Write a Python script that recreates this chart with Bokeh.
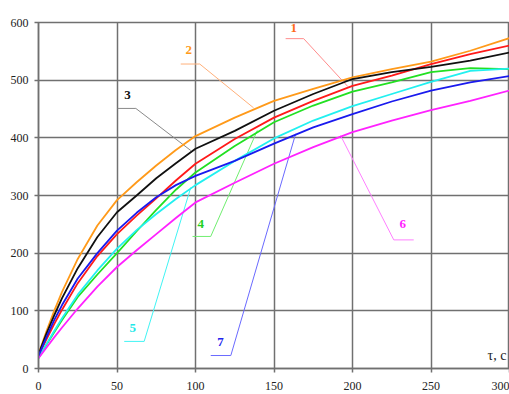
from bokeh.plotting import figure
from bokeh.models import Label, Range1d, FixedTicker
from bokeh.embed import file_html
from bokeh.resources import INLINE

# time, s
tau = [0, 5, 10, 15, 25, 37.5, 50, 62.5, 75, 87.5, 100, 125, 150, 175, 200, 225, 250, 275, 300]

# temperature, °C, for each curve
t1 = [22, 50, 77, 102, 148, 195, 233, 265, 295, 326, 355, 398, 435, 464, 490, 508, 528, 545, 560]
t2 = [25, 64, 100, 133, 190, 248, 292, 323, 352, 379, 403, 435, 464, 485, 505, 519, 532, 551, 573]
t3 = [25, 60, 92, 122, 174, 228, 271, 300, 330, 356, 381, 412, 447, 476, 502, 514, 523, 534, 548]
t4 = [18, 41, 63, 84, 124, 163, 200, 238, 275, 310, 340, 386, 427, 456, 480, 496, 514, 521, 519]
t5 = [18, 42, 65, 87, 128, 170, 208, 240, 268, 294, 318, 360, 399, 430, 455, 476, 497, 516, 520]
t6 = [18, 36, 54, 71, 104, 142, 176, 205, 233, 261, 288, 322, 355, 384, 410, 430, 448, 464, 482]
t7 = [22, 54, 84, 110, 156, 200, 239, 270, 297, 318, 334, 360, 390, 418, 441, 463, 482, 496, 507]

curve_names = ["1", "2", "3", "4", "5", "6", "7"]
curve_values = [t1, t2, t3, t4, t5, t6, t7]
curve_colors = ["#ff1a1a", "#ff9a1a", "#111111", "#22e022", "#22f0f0", "#ff22ff", "#1a1aee"]

# callouts: text anchor, shelf start/end, point on the curve
callouts = {
    "1": dict(text=(162.5, 590), shelf=(157.4, 168.9, 572), tip=(197, 489), side="right",
              text_color="#ff6a1a", line_color="#ff8c8c"),
    "2": dict(text=(95.7, 552), shelf=(90.6, 102.7, 528), tip=(137, 452), side="right",
              text_color="#ff9a1a", line_color="#ffb07a"),
    "3": dict(text=(56.7, 475), shelf=(50.4, 62.0, 451), tip=(97, 378), side="right",
              text_color="#111111", line_color="#8a8a8a"),
    "4": dict(text=(103.4, 251), shelf=(98.1, 109.7, 229), tip=(139.4, 413), side="right",
              text_color="#22d022", line_color="#70ee70"),
    "5": dict(text=(60.0, 70), shelf=(54.6, 67.3, 47), tip=(97, 314), side="right",
              text_color="#22e8e8", line_color="#40f4f4"),
    "6": dict(text=(232.0, 251), shelf=(226.3, 239.0, 223), tip=(192.4, 404), side="left",
              text_color="#ff22ff", line_color="#ff80ff"),
    "7": dict(text=(116.0, 46), shelf=(109.7, 122.5, 22.5), tip=(163.8, 407), side="right",
              text_color="#2222ee", line_color="#6a6aff"),
}

x_ticks = [0, 50, 100, 150, 200, 250, 300]
y_ticks = [0, 100, 200, 300, 400, 500, 600]

p = figure(width=509, height=394, output_backend="svg", toolbar_location=None,
           x_range=Range1d(0, 300), y_range=Range1d(0, 600),
           min_border_left=38, min_border_right=0, min_border_top=22, min_border_bottom=26)

p.background_fill_color = "white"
p.border_fill_color = "white"
p.outline_line_color = "#707070"
p.outline_line_width = 1.5

grid_color = "#707070"
p.xgrid.ticker = FixedTicker(ticks=x_ticks)
p.ygrid.ticker = FixedTicker(ticks=y_ticks)
for g in (p.xgrid, p.ygrid):
    g.grid_line_color = grid_color
    g.grid_line_width = 1.5

for ax, ticks in ((p.xaxis, x_ticks), (p.yaxis, y_ticks)):
    ax.ticker = FixedTicker(ticks=ticks)
    ax.axis_line_color = grid_color
    ax.axis_line_width = 1.5
    ax.major_tick_line_color = grid_color
    ax.major_tick_line_width = 1.5
    ax.major_tick_out = 4
    ax.major_tick_in = 0
    ax.minor_tick_line_color = None
    ax.major_label_text_font = "Liberation Serif"
    ax.major_label_text_font_size = "12px"
    ax.major_label_text_color = "#222222"
p.xaxis.major_label_standoff = 9
p.yaxis.major_label_standoff = 6

# callout leaders drawn first, under the curves
for name in curve_names:
    c = callouts[name]
    x0, x1, ys = c["shelf"]
    tx, ty = c["tip"]
    joint = x1 if c["side"] == "right" else x0
    p.line([x0, x1], [ys, ys], line_color=c["line_color"], line_width=1)
    p.line([joint, tx], [ys, ty], line_color=c["line_color"], line_width=1)

for name, vals, col in zip(curve_names, curve_values, curve_colors):
    p.line(tau, vals, line_color=col, line_width=1.8, line_join="round")

for name in curve_names:
    c = callouts[name]
    p.add_layout(Label(x=c["text"][0], y=c["text"][1], text=name,
                       text_font="Liberation Serif", text_font_size="13px",
                       text_font_style="bold", text_color=c["text_color"],
                       text_align="center", text_baseline="middle"))

p.add_layout(Label(x=0, y=600, text="°C", x_offset=2, y_offset=4,
                   text_font="Liberation Serif", text_font_size="14px",
                   text_color="#222222", text_baseline="bottom"))
p.add_layout(Label(x=298, y=0, text="τ, c", y_offset=6,
                   text_font="Liberation Serif", text_font_size="14px",
                   text_color="#222222", text_align="right", text_baseline="bottom"))

open("out.html", "w").write(file_html(p, INLINE))
